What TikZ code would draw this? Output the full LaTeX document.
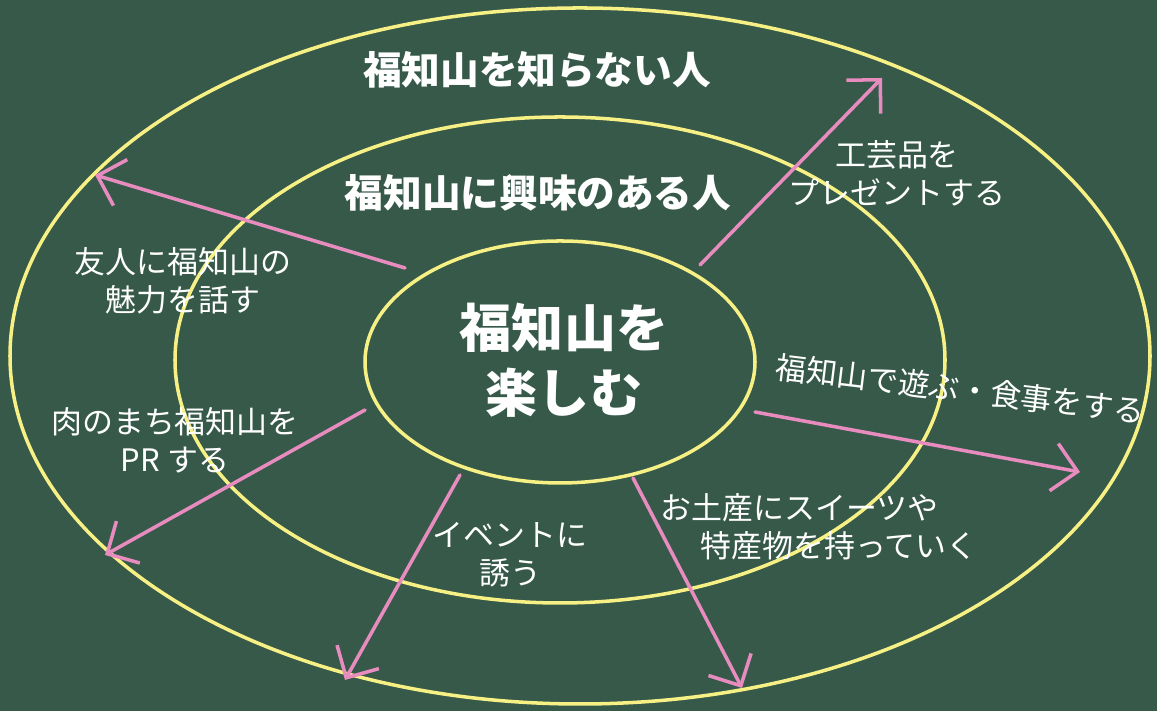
\documentclass[tikz,border=0pt]{standalone}
\usepackage{fontspec}
\setmainfont{Noto Sans CJK JP}
\usepackage{tkz-euclide}
\usetikzlibrary{arrows.meta}
\definecolor{BoardClr}{rgb}{0.21,0.35,0.29}
\definecolor{ChalkYel}{rgb}{0.97,0.94,0.52}
\definecolor{ChalkPnk}{rgb}{0.91,0.55,0.75}

\begin{document}
\begin{tikzpicture}
\tkzSetUpLine[line width=1pt,color=ChalkPnk]
\tikzset{
  lbl/.style={text=white,align=center,inner sep=0pt,font=\fontsize{8.8}{10.8}\selectfont},
  ring/.style={text=white,inner sep=0pt,font=\fontsize{11}{13}\selectfont\bfseries}
}

\fill[BoardClr] (0,0) rectangle (11.57,7.11);

\draw[ChalkYel,line width=1pt] (5.80,3.55) ellipse (5.70 and 3.48);
\draw[ChalkYel,line width=1pt] (5.60,3.51) ellipse (3.85 and 2.43);
\draw[ChalkYel,line width=1pt] (5.60,3.49) ellipse (1.95 and 1.21);

\tkzDefPoints{7.00/4.46/S1,8.82/6.33/T1,4.05/4.43/S2,0.95/5.36/T2,3.65/3.01/S3,1.05/1.56/T3}
\tkzDefPoints{4.60/2.36/S4,3.45/0.31/T4,6.33/2.33/S5,7.42/0.23/T5,7.55/2.99/S6,10.80/2.39/T6}

\tkzDrawSegments[-{Straight Barb[length=2.4mm,width=4.8mm]}](S1,T1 S2,T2 S3,T3 S4,T4 S5,T5 S6,T6)

\node[ring] (outer) at (5.37,6.41) {福知山を知らない人};
\node[ring] (middle) at (5.38,5.18) {福知山に興味のある人};
\node[text=white,align=center,inner sep=0pt,font=\fontsize{14.8}{18.5}\selectfont\bfseries] (core) at (5.64,3.51) {福知山を\\楽しむ};

\node[lbl] (gift) at (8.97,5.38) {工芸品を\\プレゼントする};
\node[lbl] (friend) at (1.83,4.30) {友人に福知山の\\魅力を話す};
\node[lbl] (pr) at (1.75,2.71) {肉のまち福知山を\\PR する};
\node[lbl] (event) at (5.10,1.56) {イベントに\\誘う};
\node[lbl,align=left,anchor=west] (souv) at (6.60,1.84) {お土産にスイーツや\\\hspace*{4mm}特産物を持っていく};
\node[lbl,rotate=-7] (play) at (9.60,3.22) {福知山で遊ぶ・食事をする};

\end{tikzpicture}
\end{document}
